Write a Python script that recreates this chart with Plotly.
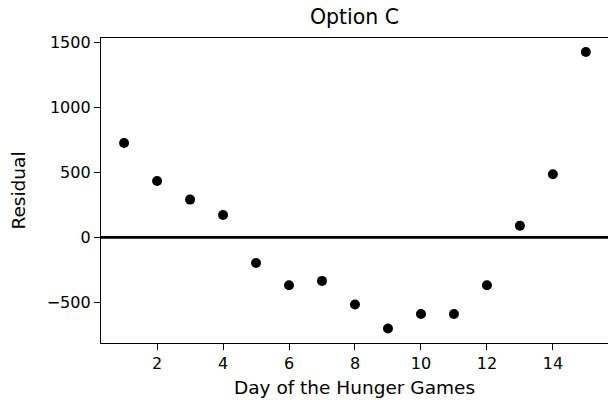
import plotly.graph_objects as go

days = list(range(1, 16))
residuals = [725, 433, 290, 172, -197, -367, -334, -515, -700, -588, -588, -367, 89, 485, 1423]

x_ticks = [2, 4, 6, 8, 10, 12, 14]
y_ticks = [-500, 0, 500, 1000, 1500]
y_tick_text = ["\u2212500", "0", "500", "1000", "1500"]

font_family = "DejaVu Sans"

fig = go.Figure()
fig.add_trace(go.Scatter(
    x=days, y=residuals, mode="markers",
    marker=dict(color="black", size=10),
    showlegend=False,
))

fig.add_shape(type="line", xref="paper", yref="y", x0=0, x1=1, y0=0, y1=0,
              line=dict(color="black", width=2.7))

fig.update_layout(
    width=608, height=400,
    margin=dict(l=101, r=0, t=38, b=57),
    paper_bgcolor="white", plot_bgcolor="white",
    font=dict(family=font_family, color="black", size=16),
    title=dict(text="Option C", x=0.5, xref="paper", xanchor="center",
               y=1, yref="paper", yanchor="bottom", pad=dict(b=14),
               font=dict(size=20.5, family=font_family, color="black")),
    xaxis=dict(
        range=[0.3, 15.67], tickvals=x_ticks, ticktext=[str(v) for v in x_ticks],
        showgrid=False, zeroline=False,
        showline=True, mirror=True, linecolor="black", linewidth=1.3,
        ticks="outside", ticklen=6, tickcolor="black", tickwidth=1.2,
        title=dict(text="Day of the Hunger Games", standoff=8,
                   font=dict(size=18.5, family=font_family)),
        tickfont=dict(size=16, family=font_family),
    ),
    yaxis=dict(
        range=[-811, 1531], tickvals=y_ticks, ticktext=y_tick_text,
        showgrid=False, zeroline=False,
        showline=True, mirror=False, linecolor="black", linewidth=1.3,
        ticks="outside", ticklen=6, tickcolor="black", tickwidth=1.2,
        title=dict(text="Residual", standoff=16,
                   font=dict(size=18.5, family=font_family)),
        tickfont=dict(size=16, family=font_family),
    ),
)

fig.write_html("out.html", config={"displayModeBar": False},
               post_script="document.body.style.margin='0';")
